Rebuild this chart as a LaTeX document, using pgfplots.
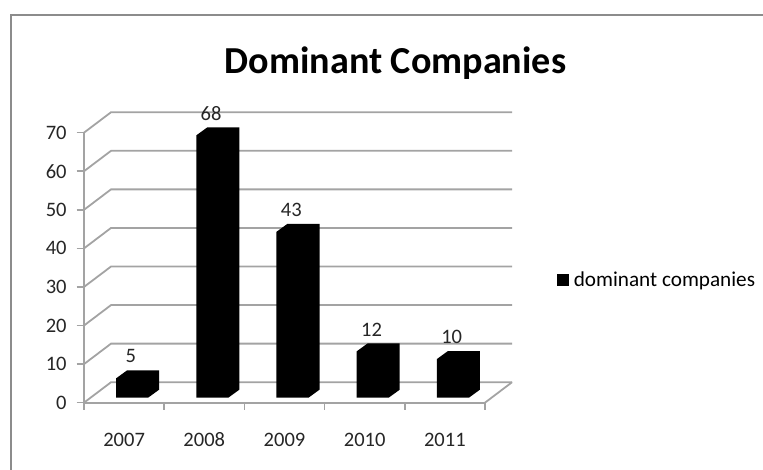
\documentclass[border=0pt]{standalone}
\usepackage{pgfplots}
\pgfplotsset{compat=1.18}
\usepackage{fontspec}
\setmainfont{Carlito}
\definecolor{gridgray}{HTML}{A3A3A3}
\definecolor{framegray}{HTML}{8C8C8C}
\begin{document}
\begin{tikzpicture}[x=0.75pt,y=0.75pt]
% page extent and chart frame, in pixel units with the origin at the lower left
\path[use as bounding box] (0,0) rectangle (763,470);
\draw[framegray,line width=1.5pt] (11,0) -- (11,455) -- (763,455);
\begin{axis}[
  at={(63pt,50.5pt)}, anchor=south west,
  scale only axis, width=300.75pt, height=202.5pt,
  xmin=-0.5, xmax=4.5, ymin=0, ymax=70,
  clip=false,
  axis x line=bottom, axis y line=left,
  axis line style={gridgray,line width=1.35pt,-},
  /pgf/number format/assume math mode=true,
  xtick={-0.5,0.5,1.5,2.5,3.5,4.5},
  xticklabels={},
  extra x ticks={0,1,2,3,4},
  extra x tick labels={2007,2008,2009,2010,2011},
  extra x tick style={major tick length=0pt,
    xticklabel style={anchor=base,yshift=-33pt,text height=11pt}},
  ytick={0,10,...,70},
  tick align=outside,
  major tick length=5.5pt,
  tick style={draw=gridgray,line width=1.2pt},
  every tick label/.append style={font=\fontsize{15.4pt}{15.4pt}\selectfont,text=black!85},
  yticklabel style={xshift=-4pt},
  title={\bfseries Dominant Companies},
  title style={font=\fontsize{28.6pt}{28.6pt}\selectfont,at={(0.7768,1)},anchor=center,
    yshift=46.5pt},
  legend style={at={(1.18,0.453)},anchor=west,draw=none,fill=none,
    font=\fontsize{15.9pt}{15.9pt}\selectfont,inner sep=0pt,outer sep=0pt,
    legend cell align=left},
]
% receding side wall and back wall gridlines
\pgfplotsinvokeforeach{0,10,...,70}{%
  \addplot[gridgray,line width=1.35pt,forget plot,sharp plot] coordinates
    {(-0.5,#1) (-0.163,#1+5.3) (4.837,#1+5.3)};
}
% floor edge on the right
\addplot[gridgray,line width=1.35pt,forget plot] coordinates {(4.5,0) (4.837,5.3)};
% bars: front face plus top and side faces as one outline
\addplot[fill=black,draw=none,
  legend image code/.code={\fill[black] (0,-4.4pt) rectangle (9pt,4.6pt);}]
  coordinates
  {(-0.1,1.3) (-0.1,6.3) (0.037,8.37) (0.437,8.37) (0.437,3.37) (0.3,1.3)} -- cycle;
\addlegendentry{\hspace{1.5pt}dominant companies}
\addplot[fill=black,draw=none,forget plot] coordinates
  {(0.9,1.3) (0.9,69.3) (1.037,71.37) (1.437,71.37) (1.437,3.37) (1.3,1.3)} -- cycle;
\addplot[fill=black,draw=none,forget plot] coordinates
  {(1.9,1.3) (1.9,44.3) (2.037,46.37) (2.437,46.37) (2.437,3.37) (2.3,1.3)} -- cycle;
\addplot[fill=black,draw=none,forget plot] coordinates
  {(2.9,1.3) (2.9,13.3) (3.037,15.37) (3.437,15.37) (3.437,3.37) (3.3,1.3)} -- cycle;
\addplot[fill=black,draw=none,forget plot] coordinates
  {(3.9,1.3) (3.9,11.3) (4.037,13.37) (4.437,13.37) (4.437,3.37) (4.3,1.3)} -- cycle;
% value labels above the bars
\addplot[draw=none,forget plot,
  nodes near coords,
  point meta=explicit,
  every node near coord/.append style={anchor=center,yshift=20.2pt,text=black!85,
    font=\fontsize{15.4pt}{15.4pt}\selectfont}]
  coordinates {(0.085,5)[5] (1.085,68)[68] (2.085,43)[43] (3.085,12)[12] (4.085,10)[10]};
\end{axis}
\end{tikzpicture}
\end{document}
